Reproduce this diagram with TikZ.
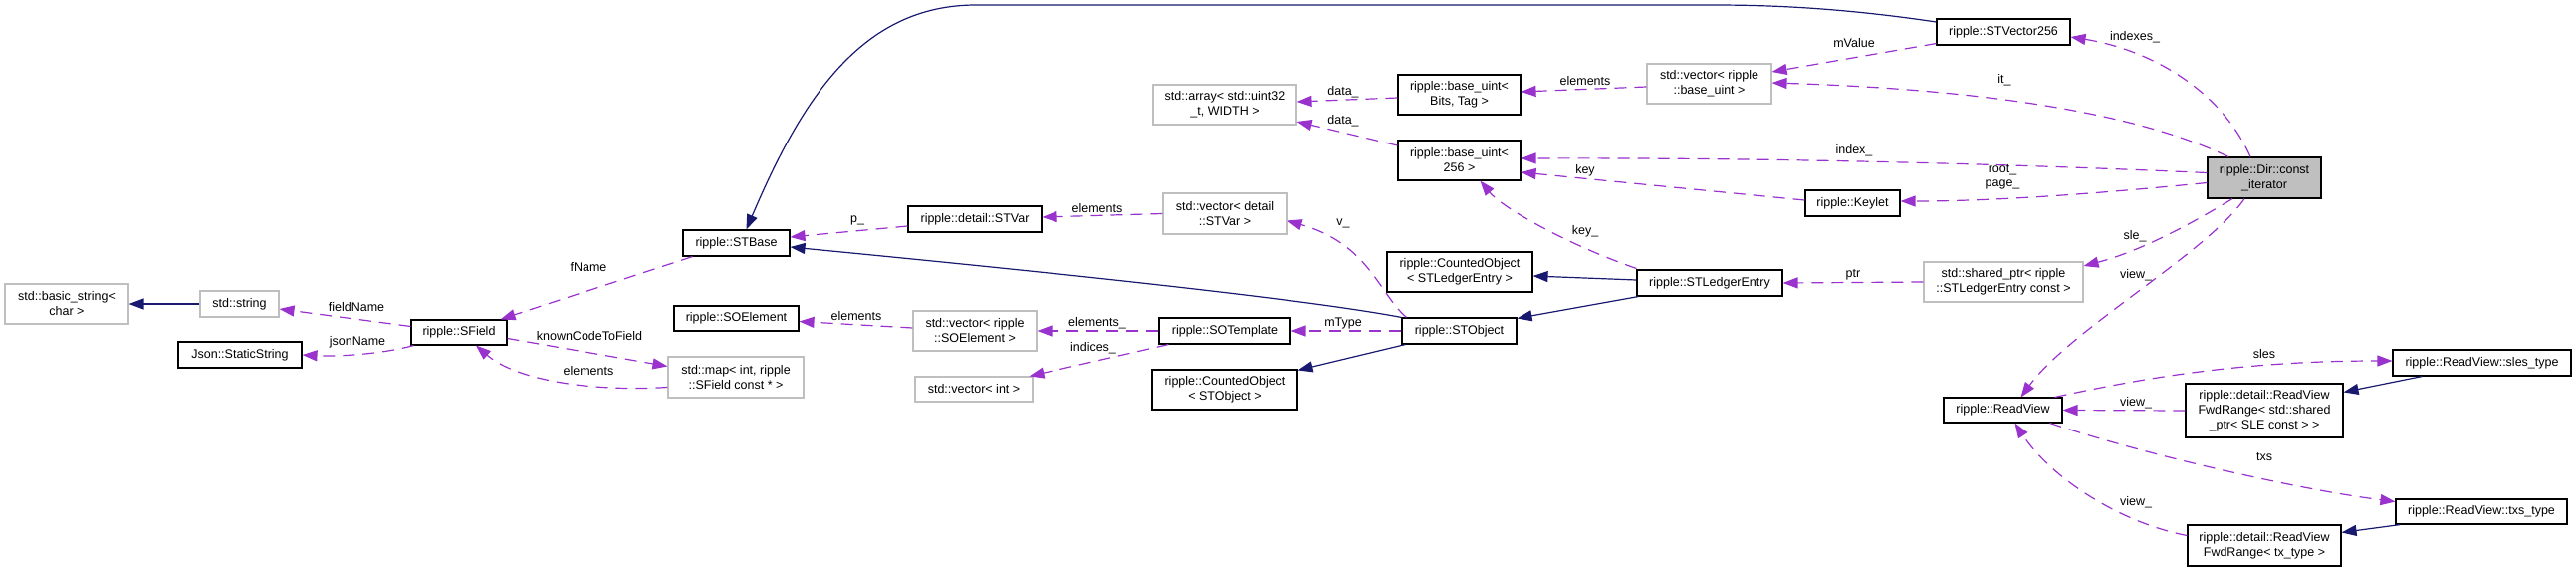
\documentclass[tikz,border=0pt]{standalone}
\usepackage{fontspec}
\setmainfont{Liberation Sans}
\usetikzlibrary{arrows.meta}
\definecolor{edgeP}{HTML}{9A32CD}
\definecolor{edgeN}{HTML}{191970}
\definecolor{boxG}{HTML}{BFBFBF}
\begin{document}
\begin{tikzpicture}[x=1pt,y=-1pt,
  font=\fontsize{12.5}{15}\selectfont,
  cls/.style={draw=black, line width=1.1pt, fill=white, inner sep=0pt, align=center, text=black},
  ext/.style={cls, draw=boxG},
  cur/.style={cls, fill=boxG},
  use/.style={draw=edgeP, line width=1.2pt, dash pattern=on 12pt off 8pt, -{Triangle[length=15pt,width=11pt]}},
  inh/.style={draw=edgeN, line width=1.2pt, -{Triangle[length=15pt,width=11pt]}},
  lbl/.style={inner sep=0pt, text=black, align=center, font=\fontsize{12.5}{14}\selectfont}]
\useasboundingbox (0,0) rectangle (2587,574);
% nodes
\node[ext, minimum width=124pt, minimum height=40pt] (bstr) at (67,305) {std::basic\_string<\\char >};
\node[ext, minimum width=79pt, minimum height=26pt] (sstr) at (240.5,305) {std::string};
\node[cls, minimum width=124pt, minimum height=26pt] (json) at (241,356) {Json::StaticString};
\node[cls, minimum width=96pt, minimum height=25pt] (sfield) at (461,333.5) {ripple::SField};
\node[cls, minimum width=107pt, minimum height=26pt] (stbase) at (739.5,244) {ripple::STBase};
\node[cls, minimum width=125pt, minimum height=25pt] (soel) at (739.5,319.5) {ripple::SOElement};
\node[ext, minimum width=136pt, minimum height=41pt] (map) at (739,378.5) {std::map< int, ripple\\::SField const * >};
\node[cls, minimum width=134pt, minimum height=26pt] (stvar) at (979,220) {ripple::detail::STVar};
\node[ext, minimum width=124pt, minimum height=40pt] (vsoel) at (979,332) {std::vector< ripple\\::SOElement >};
\node[ext, minimum width=118pt, minimum height=25pt] (vint) at (978,390.5) {std::vector< int >};
\node[ext, minimum width=144pt, minimum height=40pt] (arr) at (1230,105) {std::array< std::uint32\\\_t, WIDTH >};
\node[ext, minimum width=124pt, minimum height=41pt] (vstvar) at (1230,214.5) {std::vector< detail\\::STVar >};
\node[cls, minimum width=132pt, minimum height=26pt] (sotpl) at (1230,332) {ripple::SOTemplate};
\node[cls, minimum width=146pt, minimum height=40pt] (cnto) at (1230,391) {ripple::CountedObject\\< STObject >};
\node[cls, minimum width=123pt, minimum height=40pt] (buBT) at (1465.5,95) {ripple::base\_uint<\\Bits, Tag >};
\node[cls, minimum width=123pt, minimum height=40pt] (bu256) at (1465.5,161) {ripple::base\_uint<\\256 >};
\node[cls, minimum width=146pt, minimum height=40pt] (cntle) at (1466,273) {ripple::CountedObject\\< STLedgerEntry >};
\node[cls, minimum width=115pt, minimum height=26pt] (stobj) at (1465.5,332) {ripple::STObject};
\node[ext, minimum width=125pt, minimum height=40pt] (vbu) at (1716.5,84) {std::vector< ripple\\::base\_uint >};
\node[cls, minimum width=146pt, minimum height=26pt] (stle) at (1717,284) {ripple::STLedgerEntry};
\node[cls, minimum width=134pt, minimum height=26pt] (stv256) at (2012,32) {ripple::STVector256};
\node[cls, minimum width=95pt, minimum height=26pt] (keylet) at (1860.5,204) {ripple::Keylet};
\node[ext, minimum width=160pt, minimum height=40pt] (shp) at (2012,283) {std::shared\_ptr< ripple\\::STLedgerEntry const >};
\node[cls, minimum width=119pt, minimum height=25pt] (rv) at (2011.5,411.5) {ripple::ReadView};
\node[cur, minimum width=114pt, minimum height=41pt] (dir) at (2274,178.5) {ripple::Dir::const\\\_iterator};
\node[cls, minimum width=158pt, minimum height=54pt] (fwd1) at (2274,412) {ripple::detail::ReadView\\FwdRange< std::shared\\\_ptr< SLE const > >};
\node[cls, minimum width=154pt, minimum height=41pt] (fwd2) at (2274,547.5) {ripple::detail::ReadView\\FwdRange< tx\_type >};
\node[cls, minimum width=179pt, minimum height=26pt] (sles) at (2492.5,364) {ripple::ReadView::sles\_type};
\node[cls, minimum width=172pt, minimum height=25pt] (txs) at (2492,513.5) {ripple::ReadView::txs\_type};
% inheritance edges
\draw[inh] (sstr.west) -- (bstr.east);
\draw[inh] ([shift={(0,-10)}]stv256.west) .. controls (1850,8) and (1780,5) .. (1720,5) -- (980,5) .. controls (865,5) and (805,100) .. ([shift={(10,0)}]stbase.north);
\draw[inh] (stobj.north west) .. controls (1300,298) and (1000,268) .. ([shift={(0,4)}]stbase.east);
\draw[inh] ([shift={(4,0)}]stobj.south west) -- ([shift={(0,1)}]cnto.north east);
\draw[inh] ([shift={(0,-3)}]stle.west) -- ([shift={(0,4)}]cntle.east);
\draw[inh] ([shift={(2,0)}]stle.south west) -- ([shift={(0,1)}]stobj.north east);
\draw[inh] ([shift={(30,0)}]sles.south west) -- ([shift={(0,9)}]fwd1.north east);
\draw[inh] ([shift={(5,0)}]txs.south west) -- ([shift={(0,8)}]fwd2.north east);
% usage edges
\draw[use] ([shift={(0,-6)}]sfield.west) -- ([shift={(0,5)}]sstr.east);
\node[lbl] (lfield) at (358,308) {fieldName};
\draw[use] ([shift={(3,0)}]sfield.south west) .. controls (385,355) and (340,358) .. (json.east);
\node[lbl] (ljson) at (359,343) {jsonName};
\draw[use] ([shift={(10,0)}]stbase.south west) -- ([shift={(-7,0)}]sfield.north east);
\node[lbl] (lfname) at (591,268) {fName};
\draw[use] ([shift={(0,6)}]sfield.east) -- ([shift={(0,-11)}]map.west);
\node[lbl] (lkctf) at (592,337) {knownCodeToField};
\draw[use] ([shift={(0,10)}]map.west) .. controls (600,393) and (520,383) .. ([shift={(17,0)}]sfield.south);
\node[lbl] (lmapel) at (591,372) {elements};
\draw[use] ([shift={(0,7)}]stvar.west) -- ([shift={(0,-6)}]stbase.east);
\node[lbl] (lp) at (861,221) {p\_};
\draw[use] (vstvar.west) -- ([shift={(0,-2)}]stvar.east);
\node[lbl] (lvstvar) at (1102,209) {elements};
\draw[use] ([shift={(5,0)}]stobj.north west) .. controls (1385,295) and (1375,245) .. ([shift={(0,7)}]vstvar.east);
\node[lbl] (lv) at (1349,224) {v\_};
\draw[use] ([shift={(0,3)}]buBT.west) -- ([shift={(0,-3)}]arr.east);
\node[lbl] (ldata1) at (1349,92) {data\_};
\draw[use] ([shift={(0,-15)}]bu256.west) -- ([shift={(0,17)}]arr.east);
\node[lbl] (ldata2) at (1349,121) {data\_};
\draw[use] ([shift={(0,3)}]vbu.west) -- ([shift={(0,-3)}]buBT.east);
\node[lbl] (lvbu) at (1592,81) {elements};
\draw[use] ([shift={(0,-2)}]stv256.south west) -- ([shift={(0,-12)}]vbu.east);
\node[lbl] (lmvalue) at (1862,43) {mValue};
\draw[use] ([shift={(-36,0)}]dir.north) .. controls (2150,115) and (2000,90) .. ([shift={(0,-1)}]vbu.east);
\node[lbl] (lit) at (2013,80) {it\_};
\draw[use] ([shift={(-14,0)}]dir.north) .. controls (2230,90) and (2160,50) .. ([shift={(0,5)}]stv256.east);
\node[lbl] (lindexes) at (2144,37) {indexes\_};
\draw[use] ([shift={(0,-5)}]dir.west) .. controls (2050,166) and (1800,158) .. ([shift={(0,-2)}]bu256.east);
\node[lbl] (lindex) at (1862,151) {index\_};
\draw[use] ([shift={(0,-3)}]keylet.west) -- ([shift={(0,12)}]bu256.east);
\node[lbl] (lkey) at (1592,171) {key};
\draw[use] ([shift={(0,5)}]dir.west) .. controls (2100,195) and (2000,202) .. ([shift={(0,-2)}]keylet.east);
\node[lbl] (lroot) at (2011,178) {root\_\\page\_};
\draw[use] ([shift={(0,-1)}]stle.north west) .. controls (1580,248) and (1510,210) .. ([shift={(21,0)}]bu256.south);
\node[lbl] (lkey2) at (1592,232) {key\_};
\draw[use] (shp.west) -- (stle.east);
\node[lbl] (lptr) at (1861,276) {ptr};
\draw[use] ([shift={(-32,0)}]dir.south) .. controls (2200,225) and (2150,252) .. ([shift={(0,-16)}]shp.east);
\node[lbl] (lsle) at (2144,237) {sle\_};
\draw[use] ([shift={(-20,0)}]dir.south) .. controls (2215,255) and (2080,330) .. ([shift={(18,0)}]rv.north);
\node[lbl] (lview1) at (2145,276) {view\_};
\draw[use] ([shift={(-8,0)}]rv.north east) .. controls (2150,380) and (2250,362) .. ([shift={(0,-2)}]sles.west);
\node[lbl] (lsles) at (2274,355) {sles};
\draw[use] (fwd1.west) -- (rv.east);
\node[lbl] (lview2) at (2145,404) {view\_};
\draw[use] ([shift={(-13,0)}]rv.south east) .. controls (2150,455) and (2300,490) .. ([shift={(0,-10)}]txs.west);
\node[lbl] (ltxs) at (2274,459) {txs};
\draw[use] ([shift={(0,-10)}]fwd2.west) .. controls (2130,525) and (2060,480) .. ([shift={(12,0)}]rv.south);
\node[lbl] (lview3) at (2145,504) {view\_};
\draw[use] (sotpl.west) -- (vsoel.east);
\node[lbl] (lels) at (1102,324) {elements\_};
\draw[use] ([shift={(0,-3)}]vsoel.west) -- ([shift={(0,3)}]soel.east);
\node[lbl] (lsoel) at (860,317) {elements};
\draw[use] ([shift={(10,0)}]sotpl.south west) -- ([shift={(-4,0)}]vint.north east);
\node[lbl] (lind) at (1098,349) {indices\_};
\draw[use] (stobj.west) -- (sotpl.east);
\node[lbl] (lmtype) at (1349,324) {mType};
\end{tikzpicture}
\end{document}
